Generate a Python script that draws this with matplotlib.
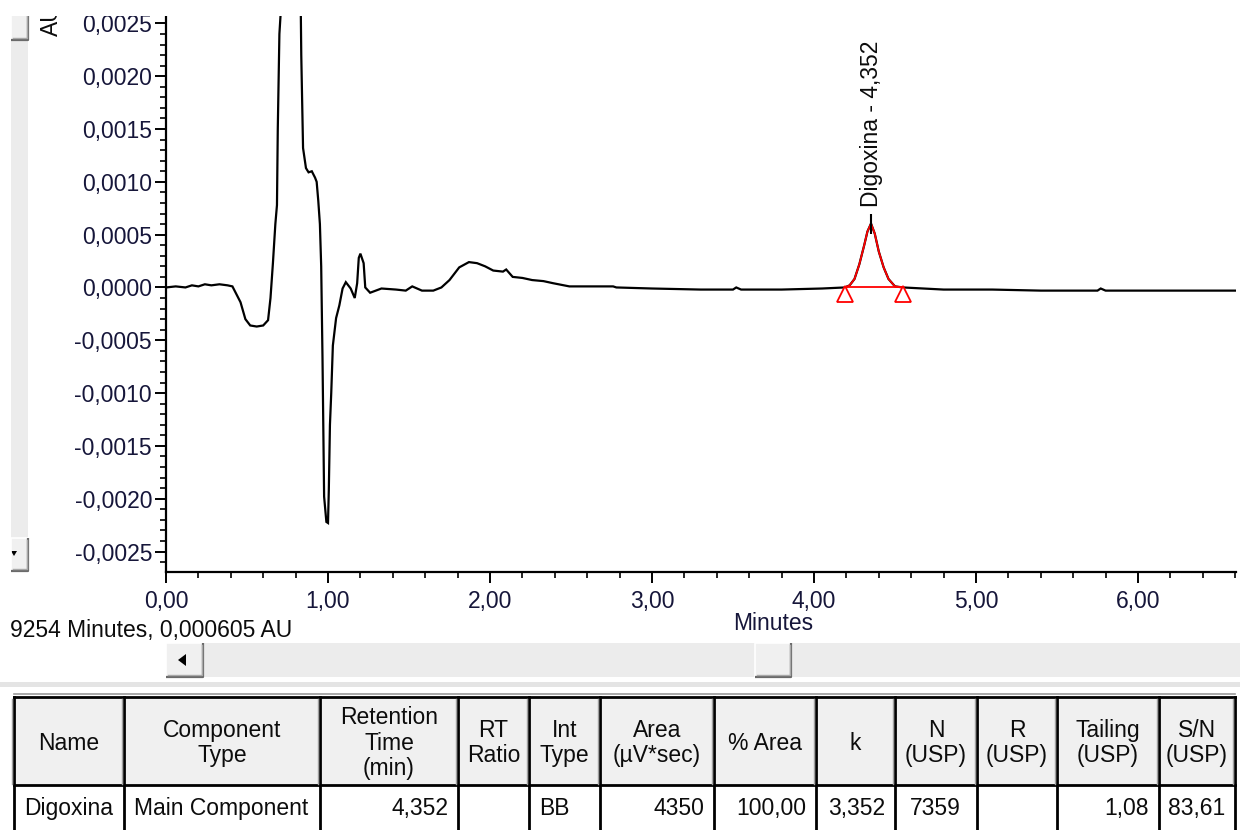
import numpy as np
import matplotlib
matplotlib.use("Agg")
import matplotlib.pyplot as plt
from matplotlib.patches import Rectangle, Polygon
from matplotlib.ticker import FixedLocator, MultipleLocator, FuncFormatter
from matplotlib.transforms import offset_copy

plt.rcParams["font.family"] = ["Liberation Sans", "DejaVu Sans"]
plt.rcParams["axes.unicode_minus"] = False

# ---- chromatogram trace (minutes, AU) ----
trace_time = [0.00, 0.06, 0.12, 0.16, 0.20, 0.24, 0.28, 0.33, 0.38, 0.41,
              0.43, 0.46, 0.49, 0.52, 0.56, 0.60, 0.63, 0.645, 0.66, 0.675,
              0.685, 0.69, 0.70, 0.72, 0.76, 0.80, 0.83, 0.835, 0.846, 0.864,
              0.88, 0.90, 0.92, 0.93, 0.94, 0.95, 0.958, 0.966, 0.976, 0.99,
              1.00, 1.005, 1.012, 1.02, 1.03, 1.05, 1.07, 1.09, 1.11, 1.14,
              1.165, 1.18, 1.19, 1.20, 1.22, 1.23, 1.26, 1.33, 1.42, 1.48,
              1.52, 1.58, 1.65, 1.70, 1.75, 1.81, 1.87, 1.92, 1.97, 2.02,
              2.08, 2.10, 2.14, 2.20, 2.26, 2.33, 2.39, 2.49, 2.60, 2.76,
              2.78, 3.00, 3.30, 3.50, 3.52, 3.55, 3.80, 4.05, 4.19, 4.55,
              4.80, 5.10, 5.40, 5.75, 5.77, 5.80, 6.10, 6.40, 6.605]
trace_au = [0.00000, 0.00001, 0.00000, 0.00002, 0.00001, 0.00003, 0.00002, 0.00003, 0.00002, 0.00001,
            -0.00005, -0.00014, -0.00030, -0.00036, -0.00037, -0.00036, -0.00031, -0.00010, 0.00023, 0.00060,
            0.00078, 0.00150, 0.00240, 0.00290, 0.00430, 0.00410, 0.00290, 0.00220, 0.00132, 0.00113,
            0.00109, 0.00110, 0.00104, 0.00100, 0.00082, 0.00060, 0.00020, -0.00066, -0.00198, -0.00222,
            -0.00223, -0.00192, -0.00130, -0.00100, -0.00055, -0.00029, -0.00017, -0.00001, 0.00005, -0.00001,
            -0.00010, 0.00004, 0.00028, 0.00032, 0.00023, 0.00000, -0.00005, -0.00001, -0.00002, -0.00003,
            0.00001, -0.00003, -0.00003, 0.00000, 0.00007, 0.00019, 0.00024, 0.00023, 0.00020, 0.00016,
            0.00015, 0.00017, 0.00010, 0.00009, 0.00007, 0.00006, 0.00004, 0.00001, 0.00001, 0.00001,
            0.00000, -0.00001, -0.00002, -0.00002, 0.00000, -0.00002, -0.00002, -0.00001, 0.00000, -0.00001,
            -0.00002, -0.00002, -0.00003, -0.00003, -0.00001, -0.00003, -0.00003, -0.00003, -0.00003]

# ---- integrated peak ----
peak_time = [4.19, 4.22, 4.25, 4.28, 4.31, 4.33, 4.352, 4.375, 4.40, 4.43, 4.46, 4.50, 4.55]
peak_au = [0.00000, 0.00002, 0.00008, 0.00022, 0.00040, 0.00053, 0.000605, 0.00051,
           0.00034, 0.00019, 0.00008, 0.00001, 0.00000]
peak_name = "Digoxina"
peak_rt = 4.352
peak_apex_au = 0.000605

# ---- axes ----
x_ticks = [0, 1, 2, 3, 4, 5, 6]
y_ticks = [-0.0025, -0.0020, -0.0015, -0.0010, -0.0005, 0.0, 0.0005, 0.0010, 0.0015, 0.0020, 0.0025]
x_range = (0.0, 6.605)
y_range = (-0.002694, 0.00257)
cursor_readout = "9254 Minutes, 0,000605 AU"

# ---- peak table ----
table_headers = ["Name", "Component\nType", "Retention\nTime\n(min)", "RT\nRatio", "Int\nType",
                 "Area\n(µV*sec)", "% Area", "k", "N\n(USP)", "R\n(USP)", "Tailing\n(USP)", "S/N\n(USP)"]
table_row = ["Digoxina", "Main Component", "4,352", "", "BB", "4350", "100,00", "3,352",
             "7359", "", "1,08", "83,61"]
table_align = ["left", "left", "right", "left", "left", "right", "right", "right",
               "left", "left", "right", "right"]
col_edges = [14, 124, 320, 458, 529, 600, 714, 816, 895, 977, 1057, 1159, 1235]

FS = 16.5
TICK_COLOR = "#16163a"
TEXT_COLOR = "#0c0c0c"
W, H = 1240, 830

fig = plt.figure(figsize=(W / 100, H / 100), dpi=100)
fig.patch.set_facecolor("white")

# pixel-space layer for window furniture
ui = fig.add_axes([0, 0, 1, 1], zorder=-1)
ui.set_xlim(0, W)
ui.set_ylim(H, 0)
ui.axis("off")


def button(x0, y0, x1, y1):
    ui.add_patch(Rectangle((x0, y0), x1 - x0, y1 - y0, facecolor="#f0f0f0", edgecolor="none"))
    ui.plot([x0, x0, x1], [y1, y0, y0], color="white", lw=1.2, solid_capstyle="butt")
    ui.plot([x0, x1, x1], [y1, y1, y0], color="#6a6a6a", lw=1.6, solid_capstyle="butt")
    ui.plot([x0 + 1.5, x1 - 1.5, x1 - 1.5], [y1 - 2, y1 - 2, y0 + 1.5], color="#a8a8a8", lw=1.0)


# vertical scrollbar on the left
ui.add_patch(Rectangle((11, 16), 17, 556, facecolor="#ececec", edgecolor="none"))
button(11, 10, 28, 40)
button(11, 538, 28, 571)
ui.add_patch(Polygon([(11, 551), (17, 551), (14, 556)], closed=True, facecolor="black", edgecolor="none"))

# horizontal scrollbar
ui.add_patch(Rectangle((166, 643), W - 166, 34, facecolor="#ececec", edgecolor="none"))
button(166, 643, 203, 677)
ui.add_patch(Polygon([(178, 660), (186, 654), (186, 666)], closed=True, facecolor="black", edgecolor="none"))
button(755, 643, 791, 677)

# splitter above the table
ui.add_patch(Rectangle((0, 682), W, 5, facecolor="#e4e4e4", edgecolor="none"))

# peak table
top, mid, bot = 697, 785, 845
ui.add_patch(Rectangle((col_edges[0], top), col_edges[-1] - col_edges[0], mid - top,
                       facecolor="#f0f0f0", edgecolor="none"))
ui.add_patch(Rectangle((col_edges[0], mid), col_edges[-1] - col_edges[0], bot - mid,
                       facecolor="white", edgecolor="none"))
ui.plot([col_edges[0], col_edges[-1]], [top - 3, top - 3], color="#9a9a9a", lw=1.2)
for yy in (top, mid):
    ui.plot([col_edges[0], col_edges[-1]], [yy, yy], color="black", lw=2.0)
for xe in col_edges:
    ui.plot([xe, xe], [top, bot], color="black", lw=2.0)
    ui.plot([xe - 2, xe - 2], [top + 2, mid - 1], color="#a0a0a0", lw=1.0)

for i, head in enumerate(table_headers):
    cx = 0.5 * (col_edges[i] + col_edges[i + 1])
    ui.text(cx, 743, head, ha="center", va="center", fontsize=FS, color=TEXT_COLOR,
            linespacing=1.15, multialignment="center")
for i, val in enumerate(table_row):
    if not val:
        continue
    if table_align[i] == "left":
        x = col_edges[i] + 10 if i != 8 else col_edges[i] + 15
        ha = "left"
    else:
        x = col_edges[i + 1] - 10
        ha = "right"
    ui.text(x, 808, val, ha=ha, va="center", fontsize=FS, color=TEXT_COLOR)

# status readout and axis caption in pixel space
ui.text(10, 630, cursor_readout, ha="left", va="center", fontsize=FS, color=TEXT_COLOR)
ui.text(51, 20, "AU", ha="center", va="center", rotation=90, fontsize=FS, color=TEXT_COLOR)

# ---- chromatogram axes ----
ax = fig.add_axes([166 / W, 1 - 572 / H, (1236 - 166) / W, (572 - 16) / H])
ax.set_facecolor("white")

t = np.asarray(trace_time)
a = np.asarray(trace_au)
pre = t < peak_time[0]
post = t > peak_time[-1]
line_t = np.concatenate([t[pre], peak_time, t[post]])
line_a = np.concatenate([a[pre], peak_au, a[post]])
ax.plot(line_t, line_a, color="black", lw=1.6, solid_joinstyle="miter")

# integrated peak in red with its baseline and start/end markers
ax.plot(peak_time, peak_au, color="red", lw=1.3)
ax.plot([peak_time[0], peak_time[-1]], [peak_au[0], peak_au[-1]], color="red", lw=1.3)
below = offset_copy(ax.transData, fig=fig, x=0, y=-7, units="dots")
ax.plot([peak_time[0], peak_time[-1]], [peak_au[0], peak_au[-1]], linestyle="none",
        marker="^", markersize=11, markerfacecolor="white", markeredgecolor="red",
        markeredgewidth=1.3, transform=below)

# retention-time label
ax.plot([peak_rt], [peak_apex_au], marker="|", markersize=14, color="black", mew=1.5)
ax.annotate(f"{peak_name} - {peak_rt:.3f}".replace(".", ","), xy=(peak_rt, peak_apex_au),
            xytext=(0, 17), textcoords="offset pixels", rotation=90,
            ha="center", va="bottom", fontsize=FS, color=TEXT_COLOR)

ax.set_xlim(*x_range)
ax.set_ylim(*y_range)
for side in ("top", "right"):
    ax.spines[side].set_visible(False)
for side in ("left", "bottom"):
    ax.spines[side].set_linewidth(1.6)
    ax.spines[side].set_color("black")

ax.xaxis.set_major_locator(FixedLocator(x_ticks))
ax.yaxis.set_major_locator(FixedLocator(y_ticks))
ax.xaxis.set_minor_locator(MultipleLocator(0.2))
ax.yaxis.set_minor_locator(MultipleLocator(0.0001))
ax.xaxis.set_major_formatter(FuncFormatter(lambda v, p: f"{v:.2f}".replace(".", ",")))


def yfmt(v, p):
    s = f"{abs(v):.4f}".replace(".", ",")
    return ("-" + s) if v < -1e-9 else s


ax.yaxis.set_major_formatter(FuncFormatter(yfmt))
ax.tick_params(axis="both", which="major", length=8, width=1.4, direction="out",
               labelsize=FS, labelcolor=TICK_COLOR, color="black")
ax.tick_params(axis="both", which="minor", length=4, width=1.2, direction="out", color="black")
ax.tick_params(axis="y", which="major", pad=2)
ax.tick_params(axis="x", which="major", pad=5)
ax.set_xlabel("Minutes", fontsize=FS, color=TICK_COLOR)
ax.xaxis.set_label_coords((773 - 166) / (1236 - 166), (572 - 612) / (572 - 16))

# the chart pane ends a few pixels below the window top
fig.add_artist(Rectangle((0, 1 - 16 / H), 1, 16 / H, transform=fig.transFigure,
                         facecolor="white", edgecolor="none", zorder=10))

fig.savefig("out.png", dpi=100, facecolor="white")
